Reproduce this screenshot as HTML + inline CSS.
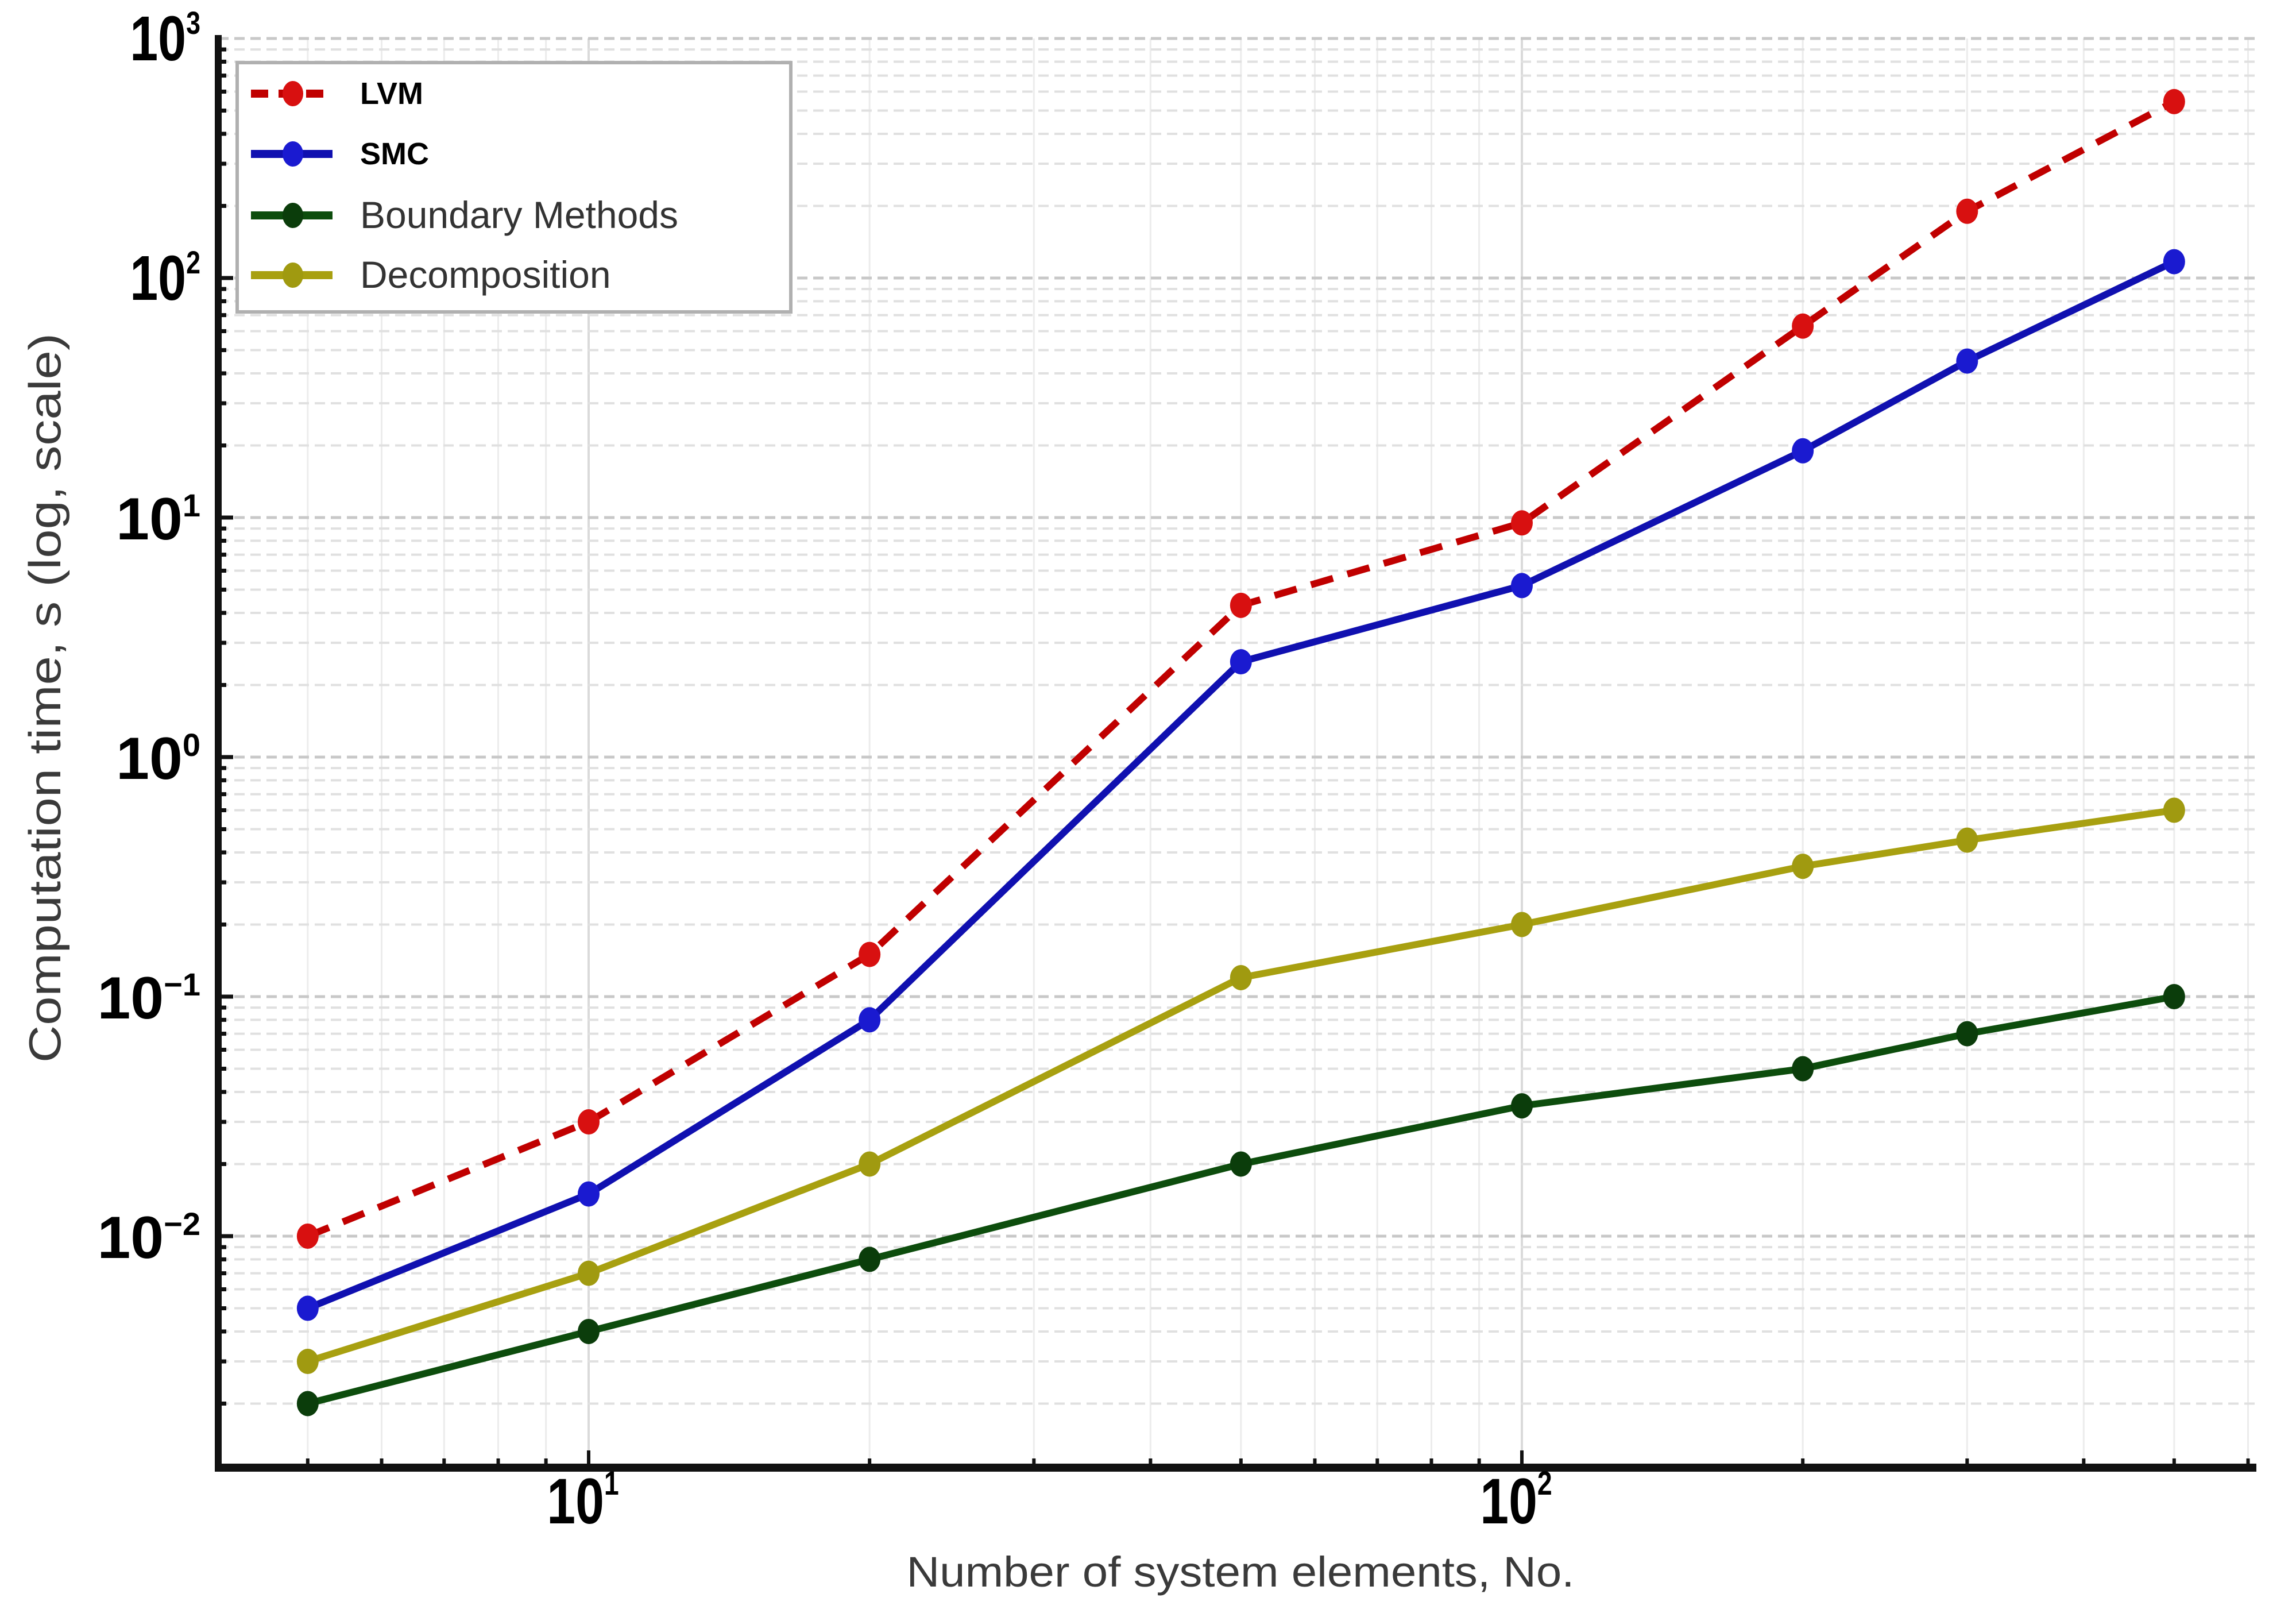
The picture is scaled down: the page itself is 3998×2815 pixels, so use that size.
<!DOCTYPE html>
<html><head><meta charset="utf-8"><style>
html,body{margin:0;padding:0;background:#fff;}
svg{display:block;}
text{font-family:"Liberation Sans",sans-serif;}
</style></head><body>
<svg id="chart" width="3998" height="2815" viewBox="0 0 3998 2815" xmlns="http://www.w3.org/2000/svg">
<g id="grid"></g>
<g id="series"></g>
<g id="axes"></g>
<g id="legend">
  <rect x="413" y="109" width="964" height="434" fill="#fff" stroke="#b0b0b0" stroke-width="6"/>
</g>
<text x="2160" y="2762" font-size="74" fill="#3a3a3a" text-anchor="middle" textLength="1163" lengthAdjust="spacingAndGlyphs">Number of system elements, No.</text>
<text transform="translate(105,1215) rotate(-90)" font-size="78" fill="#3a3a3a" text-anchor="middle" textLength="1270" lengthAdjust="spacingAndGlyphs">Computation time, s (log, scale)</text>
</svg>
<script>
const xCategories = [5, 10, 20, 50, 100, 200, 300, 500];
const lvmValues = [0.01, 0.03, 0.15, 4.3, 9.5, 63, 190, 545];
const smcValues = [0.005, 0.015, 0.08, 2.5, 5.2, 19, 45, 117];
const boundaryValues = [0.002, 0.004, 0.008, 0.02, 0.035, 0.05, 0.07, 0.1];
const decompValues = [0.003, 0.007, 0.02, 0.12, 0.2, 0.35, 0.45, 0.6];
const seriesNames = ["LVM", "SMC", "Boundary Methods", "Decomposition"];
const yTickExps = [3, 2, 1, 0, -1, -2];
const xTickExps = [1, 2];

const NS = "http://www.w3.org/2000/svg";
const X0 = 380, X1 = 3929, Y0 = 67, Y1 = 2555;
function xs(v){ return 1025 + (Math.log10(v) - 1) * 1625; }
function ys(v){ return 1318 - Math.log10(v) * 417; }
function mk(tag, attrs, parent){ const e = document.createElementNS(NS, tag); for (const k in attrs) e.setAttribute(k, attrs[k]); parent.appendChild(e); return e; }

const grid = document.getElementById('grid');
for (let d = 0; d <= 2; d++) for (let m = 1; m <= 9; m++) {
  const v = m * Math.pow(10, d);
  const x = xs(v);
  if (x < X0 + 5 || x > X1) continue;
  const l = mk('line', {x1:x, x2:x, y1:Y0, y2:Y1, stroke: m===1 ? '#dadada' : '#ececec', 'stroke-width': m===1?4:3}, grid);
  
  
}
for (let d = -3; d <= 3; d++) for (let m = 1; m <= 9; m++) {
  const v = m * Math.pow(10, d);
  const y = ys(v);
  if (y < Y0 - 1 || y > Y1 - 5) continue;
  const l = mk('line', {x1:X0, x2:X1, y1:y, y2:y, stroke: m===1 ? '#c8c8c8' : '#e0e0e0', 'stroke-width': m===1?5:4, 'stroke-dasharray':'18 10'}, grid);
  
  
}

const ser = document.getElementById('series');
const cfg = [
  {vals: lvmValues, color:'#c00000', mcolor:'#d81010', dash:'40 26', name:'lvm'},
  {vals: smcValues, color:'#1010b0', mcolor:'#1a1ad0', dash:null, name:'smc'},
  {vals: boundaryValues, color:'#0d4d0d', mcolor:'#0b3d0b', dash:null, name:'boundary-methods'},
  {vals: decompValues, color:'#a8a010', mcolor:'#a09a10', dash:null, name:'decomposition'}
];
cfg.forEach(c => {
  const g = mk('g', {}, ser);
  
  
  const pts = c.vals.map((v,i) => xs(xCategories[i]) + ',' + ys(v)).join(' ');
  const a = {points: pts, fill:'none', stroke:c.color, 'stroke-width':12, 'stroke-linejoin':'round'};
  if (c.dash) a['stroke-dasharray'] = c.dash;
  const pl = mk('polyline', a, g);
  
  
  c.vals.forEach((v,i) => {
    const p = mk('ellipse', {cx: xs(xCategories[i]), cy: ys(v), rx:19, ry:22, fill:c.mcolor}, g);
    
    
  });
});

const ax = document.getElementById('axes');
const ys_ = mk('line', {x1:X0, x2:X0, y1:Y0-6, y2:Y1+6, stroke:'#111', 'stroke-width':12}, ax);


const xs_ = mk('line', {x1:X0-6, x2:X1, y1:Y1, y2:Y1, stroke:'#111', 'stroke-width':14}, ax);


for (let d = 0; d <= 2; d++) for (let m = 1; m <= 9; m++) {
  const x = xs(m*Math.pow(10,d));
  if (x < X0 + 5 || x > X1) continue;
  const t = mk('line', {x1:x, x2:x, y1:Y1, y2:Y1-(m===1?30:16), stroke:'#111', 'stroke-width':6}, ax);
  
  
}
xTickExps.forEach(e => {
  const x = xs(Math.pow(10, e));
  const t = mk('text', {x:x-10, y:2652, 'font-size':112, 'font-weight':'bold', 'text-anchor':'middle', fill:'#000', transform:`translate(${x-10},0) scale(0.8,1) translate(${-(x-10)},0)`}, ax);
  
  
  t.textContent = '10';
  const s = mk('tspan', {dy:-50, 'font-size':58}, t);
  s.textContent = String(e);
});
for (let d = -3; d <= 2; d++) for (let m = 1; m <= 9; m++) {
  const y = ys(m*Math.pow(10,d));
  if (y < Y0 || y > Y1 - 5) continue;
  const t = mk('line', {x1:X0, x2:X0+(m===1?26:14), y1:y, y2:y, stroke:'#111', 'stroke-width':7}, ax);
  
  
}
yTickExps.forEach(e => {
  const y = ys(Math.pow(10, e));
  const narrow = e >= 2;
  const attrs = {x:349, y:y+38, 'font-size':narrow?110:104, 'font-weight':'bold', 'text-anchor':'end', fill:'#000'};
  if (narrow) attrs.transform = 'translate(349,0) scale(0.8,1) translate(-349,0)';
  const t = mk('text', attrs, ax);
  
  
  t.textContent = '10';
  const s = mk('tspan', {dy:narrow?-46:-40, 'font-size':narrow?56:56}, t);
  s.textContent = e < 0 ? '\u2212' + Math.abs(e) : String(e);
});

const lg = document.getElementById('legend');
const legY = [163, 268, 375, 479];
seriesNames.forEach((n,i) => {
  const c = cfg[i];
  const g = mk('g', {}, lg);
  
  
  const a = {x1:437, x2:579, y1:legY[i], y2:legY[i], stroke:c.color, 'stroke-width':14};
  if (c.dash) a['stroke-dasharray'] = '30 18';
  const l = mk('line', a, g);
  
  
  const m = mk('ellipse', {cx:510, cy:legY[i], rx:18, ry:22, fill:c.mcolor}, g);
  
  
  const bold = i < 2;
  const t = mk('text', {x:627, y:legY[i] + (bold?18:22), 'font-size': bold?54:66, 'font-weight': bold?'bold':'normal', fill: bold?'#000':'#333'}, g);
  
  
  t.textContent = n;
});
</script>
</body></html>
